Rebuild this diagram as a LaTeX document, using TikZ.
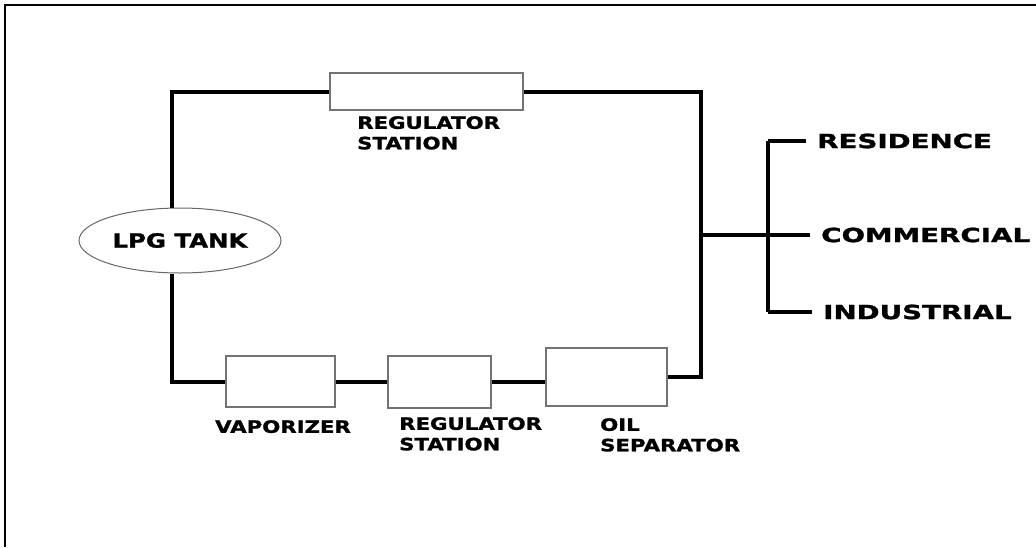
\documentclass[tikz,border=0pt]{standalone}
\usepackage{fontspec}
\newfontfamily\diafont{DejaVu Sans Bold}[FakeStretch=1.25, FakeBold=1.4]
\newfontfamily\widefont{DejaVu Sans Bold}[FakeStretch=1.42, FakeBold=1.4]
\usetikzlibrary{shapes.geometric, positioning, calc}

\begin{document}
\begin{tikzpicture}[
  x=1pt, y=-1pt,
  unit/.style={rectangle, draw=black!55, line width=1.1pt, fill=white,
               inner sep=0pt},
  tank/.style={ellipse, draw=black!60, line width=1pt, inner sep=0pt,
               minimum width=202pt, minimum height=65pt,
               font=\diafont\fontsize{19.5}{22}\selectfont},
  lbl/.style={inner sep=0pt, anchor=north west, align=left,
              font=\diafont\fontsize{17}{20.5}\selectfont},
  outlbl/.style={inner sep=0pt, anchor=west,
                 font=\widefont\fontsize{19.5}{20}\selectfont},
  pipe/.style={line width=4pt},
  feed/.style={line width=3.5pt, shorten >=11pt}
]
  \useasboundingbox (0,0) rectangle (1036,547);
  % frame
  \draw[line width=1.5pt] (1036,5) -- (5,5) -- (5,547);

  % units
  \node[tank] (lpg) at (180,240.5) {LPG TANK};
  \node[unit, minimum width=193pt, minimum height=37pt] (regtop) at (426.5,91.5) {};
  \node[unit, minimum width=109pt, minimum height=51pt] (vap) at (280.5,381.5) {};
  \node[unit, minimum width=103pt, minimum height=52pt] (regbot) at (439.5,382) {};
  \node[unit, minimum width=121pt, minimum height=58pt] (oilsep) at (606.5,377) {};

  % labels
  \node[lbl] (regtoplbl) at (357,116) {REGULATOR\\STATION};
  \node[lbl] (vaplbl) at (215,420) {VAPORIZER};
  \node[lbl] (regbotlbl) at (399,417) {REGULATOR\\STATION};
  \node[lbl] (oilseplbl) at (600,418) {OIL\\SEPARATOR};
  \node[outlbl] (res) at (817,141) {RESIDENCE};
  \node[outlbl] (com) at (821,235) {COMMERCIAL};
  \node[outlbl] (ind) at (823,312) {INDUSTRIAL};

  % pipe bends
  \coordinate (tl) at (172,91.5);
  \coordinate (bl) at (172,381.5);
  \coordinate (tr) at (701,91.5);
  \coordinate (br) at (701,377);
  \coordinate (tee) at (701,235);
  \coordinate (split) at (768,235);

  % pipes
  \draw[pipe] (lpg.north -| tl) -- (tl) -- (regtop.west);
  \draw[pipe] (lpg.south -| bl) -- (bl) -- (vap.west);
  \draw[pipe] (vap.east) -- (vap.east -| regbot.west);
  \draw[pipe] (regbot.east) -- (regbot.east -| oilsep.west);
  \draw[pipe] (oilsep.east) -- (br) -- (tr) -- (regtop.east);

  % distribution
  \draw[feed] (tee) -- (com.west);
  \draw[feed] (split |- res.west) -- (res.west);
  \draw[feed] (split |- ind.west) -- (ind.west);
  \draw[line width=3.5pt] (split |- res.west) -- (split |- ind.west);
\end{tikzpicture}
\end{document}
